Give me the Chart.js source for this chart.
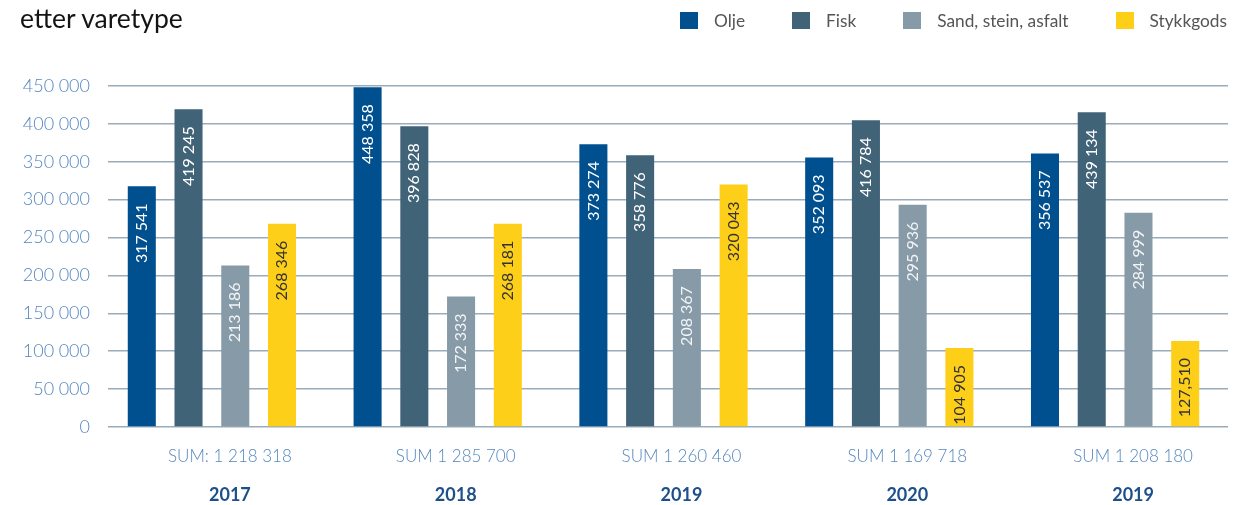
<!DOCTYPE html>
<html><head><meta charset="utf-8">
<script src="https://cdn.jsdelivr.net/npm/chart.js@4.4.1/dist/chart.umd.min.js"></script>
<style>
html,body{margin:0;padding:0;background:#fff;}
#wrap{position:relative;width:1233px;height:505px;overflow:hidden;}
#title{position:absolute;left:20px;top:2px;font:400 26.5px Lato,sans-serif;color:#141414;white-space:nowrap;line-height:32px;}
#legend{position:absolute;right:6px;top:12px;display:flex;align-items:center;font:400 17.3px Lato,sans-serif;color:#555;line-height:17px;}
#legend .it{display:flex;align-items:center;margin-left:47px;white-space:nowrap;}
#legend .bx{display:inline-block;width:18px;height:17px;margin-right:16px;}
canvas{position:absolute;left:0;top:0;}
</style>
</head><body>
<div id="wrap">
<canvas id="c" width="1233" height="505"></canvas>
<div id="title">etter varetype</div>
<div id="legend"></div>
</div>
<script>
const years = ['2017','2018','2019','2020','2019'];
const sumLabels = ['SUM: 1 218 318','SUM 1 285 700','SUM 1 260 460','SUM 1 169 718','SUM 1 208 180'];
const seriesNames = ['Olje','Fisk','Sand, stein, asfalt','Stykkgods'];
const seriesColors = ['#00508f','#406378','#869aa8','#fecf18'];
const labelColors = ['#ffffff','#ffffff','#f2f4f6','#333333'];
// bar heights
const olje  = [317541, 448358, 373274, 355700, 361000];
const fisk  = [419245, 396828, 358776, 404900, 415500];
const sand  = [213186, 172333, 208367, 293400, 282800];
const stykk = [268346, 268181, 320043, 104400, 113600];
// printed value labels
const oljeText  = ['317\u202F541','448 358','373\u202F274','352\u202F093','356\u202F537'];
const fiskText  = ['419\u202F245','396\u202F828','358 776','416 784','439 134'];
const sandText  = ['213 186','172\u202F333','208 367','295 936','284 999'];
const stykkText = ['268 346','268 181','320\u202F043','104 905','127,510'];
const yTickLabels = ['0','50\u202F000','100\u202F000','150\u202F000','200\u202F000','250\u202F000','300\u202F000','350\u202F000','400\u202F000','450\u202F000'];

const seriesValues = [olje, fisk, sand, stykk];
const seriesTexts = [oljeText, fiskText, sandText, stykkText];

// legend
const lg = document.getElementById('legend');
seriesNames.forEach((n,i)=>{
  const it = document.createElement('div'); it.className='it';
  const b = document.createElement('span'); b.className='bx'; b.style.background=seriesColors[i];
  const t = document.createElement('span'); t.textContent=n;
  it.appendChild(b); it.appendChild(t); lg.appendChild(it);
});

const maskPlugin = {
  id:'mask',
  beforeDatasetsDraw(chart){
    const a = chart.chartArea, ctx = chart.ctx;
    ctx.save(); ctx.fillStyle='#fff';
    ctx.fillRect(a.left-2, a.top-4, 11, a.bottom-a.top+8);
    ctx.restore();
  }
};
const valueLabels = {
  id:'valueLabels',
  afterDatasetsDraw(chart){
    const ctx = chart.ctx;
    chart.data.datasets.forEach((ds,i)=>{
      const meta = chart.getDatasetMeta(i);
      meta.data.forEach((bar,j)=>{
        ctx.save();
        ctx.translate(bar.x, bar.y + 17);
        ctx.rotate(-Math.PI/2);
        ctx.textAlign='right'; ctx.textBaseline='middle';
        ctx.fillStyle = labelColors[i];
        ctx.font = '400 16px Lato, sans-serif';
        ctx.fillText(seriesTexts[i][j], 0, 0);
        ctx.restore();
      });
    });
  }
};

new Chart(document.getElementById('c'), {
  type:'bar',
  data:{
    labels: sumLabels,
    datasets: seriesNames.map((n,i)=>({
      label:n, data:seriesValues[i], backgroundColor:seriesColors[i],
      borderWidth:0, categoryPercentage:0.828, barPercentage:0.6
    }))
  },
  options:{
    responsive:false, animation:false, devicePixelRatio:1,
    layout:{padding:{top:86,right:5,left:0,bottom:0}},
    plugins:{legend:{display:false}, tooltip:{enabled:false}, title:{display:false}},
    scales:{
      x:{
        position:'bottom',
        afterFit(s){ s.height = 38; },
        grid:{display:false, drawTicks:false}, border:{display:false},
        ticks:{color:'#5587bf', font:{family:'Lato', size:17, weight:'300'}, padding:19, labelOffset:18, maxRotation:0, minRotation:0, autoSkip:false}
      },
      x2:{
        type:'category', labels:years, position:'bottom', offset:true,
        afterFit(s){ s.height = 40; },
        grid:{display:false, drawTicks:false}, border:{display:false},
        ticks:{color:'#1d4f8b', font:{family:'Lato', size:18, weight:'bold'}, padding:19, labelOffset:18, maxRotation:0, minRotation:0, autoSkip:false}
      },
      y:{
        min:0, max:450000,
        afterFit(s){ s.width = 99; },
        grid:{color:'#9aabb9', lineWidth:1.5, drawTicks:false},
        border:{display:false},
        ticks:{stepSize:50000, padding:9, color:'#5587bf', font:{family:'Lato', size:18, weight:'300'},
          callback:(v,i)=>yTickLabels[i]}
      }
    }
  },
  plugins:[maskPlugin, valueLabels]
});
</script>
</body></html>
